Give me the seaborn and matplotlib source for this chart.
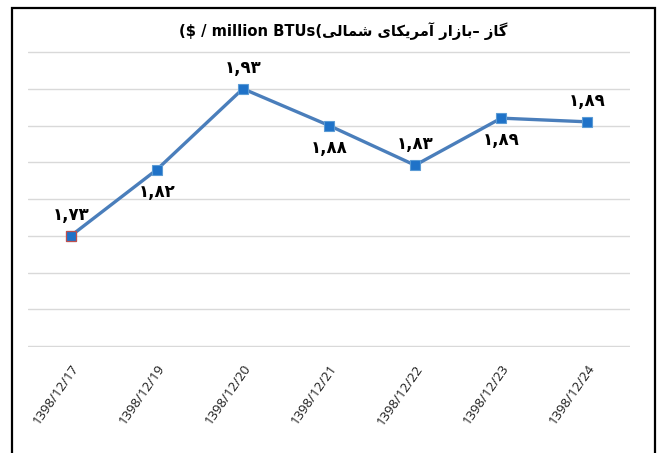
import pandas as pd
import matplotlib
matplotlib.use('Agg')
import matplotlib.pyplot as plt
import seaborn as sns
from matplotlib.patches import Rectangle

# data
dates = ['1398/12/17', '1398/12/19', '1398/12/20', '1398/12/21',
         '1398/12/22', '1398/12/23', '1398/12/24']
prices = [1.73, 1.82, 1.93, 1.88, 1.826, 1.89, 1.885]
labels = ['۱,۷۳', '۱,۸۲', '۱,۹۳', '۱,۸۸', '۱,۸۳', '۱,۸۹', '۱,۸۹']
label_side = ['above', 'below', 'above', 'below', 'above', 'below', 'above']

# Persian title, written in visual order with presentation forms
# (matplotlib has no arabic shaping)
title_fa = ('\uFBFD\uFEDF\uFE8E\uFEE4\uFEB7 '
            '\uFBFC\uFE8E\uFB91\uFBFE\uFEAE\uFEE3\uFE81 '
            '\uFEAD\uFE8D\uFEAF\uFE8E\uFE91\u2013 '
            '\uFEAF\uFE8E\uFB94')
title = '($ / million BTUs(' + title_fa

df = pd.DataFrame({'date': dates, 'price': prices})
df['pos'] = range(len(df))

sns.set_theme(style='white')
plt.rcParams['font.family'] = ['DejaVu Sans']

fig = plt.figure(figsize=(6.6, 4.53), dpi=100)
ax = fig.add_axes([0.042, 0.234, 0.913, 0.653])

sns.lineplot(data=df, x='pos', y='price', ax=ax, color='#4a7ebb', linewidth=2.4,
             marker='s', markersize=7, markerfacecolor='#1f72c8',
             markeredgecolor='#5b9bd5', markeredgewidth=0.8)
# first marker has a reddish outline
ax.plot(df['pos'].iloc[:1], df['price'].iloc[:1], 's', markersize=7,
        markerfacecolor='#1f72c8', markeredgecolor='#c0504d', markeredgewidth=0.9)

for x, y, lab, side in zip(df['pos'], df['price'], labels, label_side):
    dy = 15 if side == 'above' else -16
    ax.annotate(lab, (x, y), xytext=(0, dy), textcoords='offset points',
                ha='center', va='center', fontsize=12, fontweight='bold',
                color='black')

ax.set_xlim(-0.5, len(dates) - 0.5)
ax.set_ylim(1.579, 1.981)
ax.set_yticks([1.58 + 0.05 * i for i in range(9)])
ax.set_yticklabels([])
ax.yaxis.grid(True, color='#d9d9d9', linewidth=1)
ax.set_xticks(df['pos'])
ax.set_xticklabels(dates, rotation=55, ha='right', rotation_mode='anchor',
                   fontsize=9.5, family='Open Sans', color='#1a1a1a')
ax.tick_params(axis='x', length=0, pad=11)
ax.tick_params(axis='y', length=0)
for s in ax.spines.values():
    s.set_visible(False)
ax.set_xlabel('')
ax.set_ylabel('')

fig.text(0.52, 0.932, title, ha='center', va='center', fontsize=10.6,
         fontweight='bold', color='black')

# outer chart frame
fig.patches.append(Rectangle((0.018, -0.05), 0.974, 1.033, transform=fig.transFigure,
                             fill=False, edgecolor='black', linewidth=1.6))

fig.savefig('out.png', dpi=100)
